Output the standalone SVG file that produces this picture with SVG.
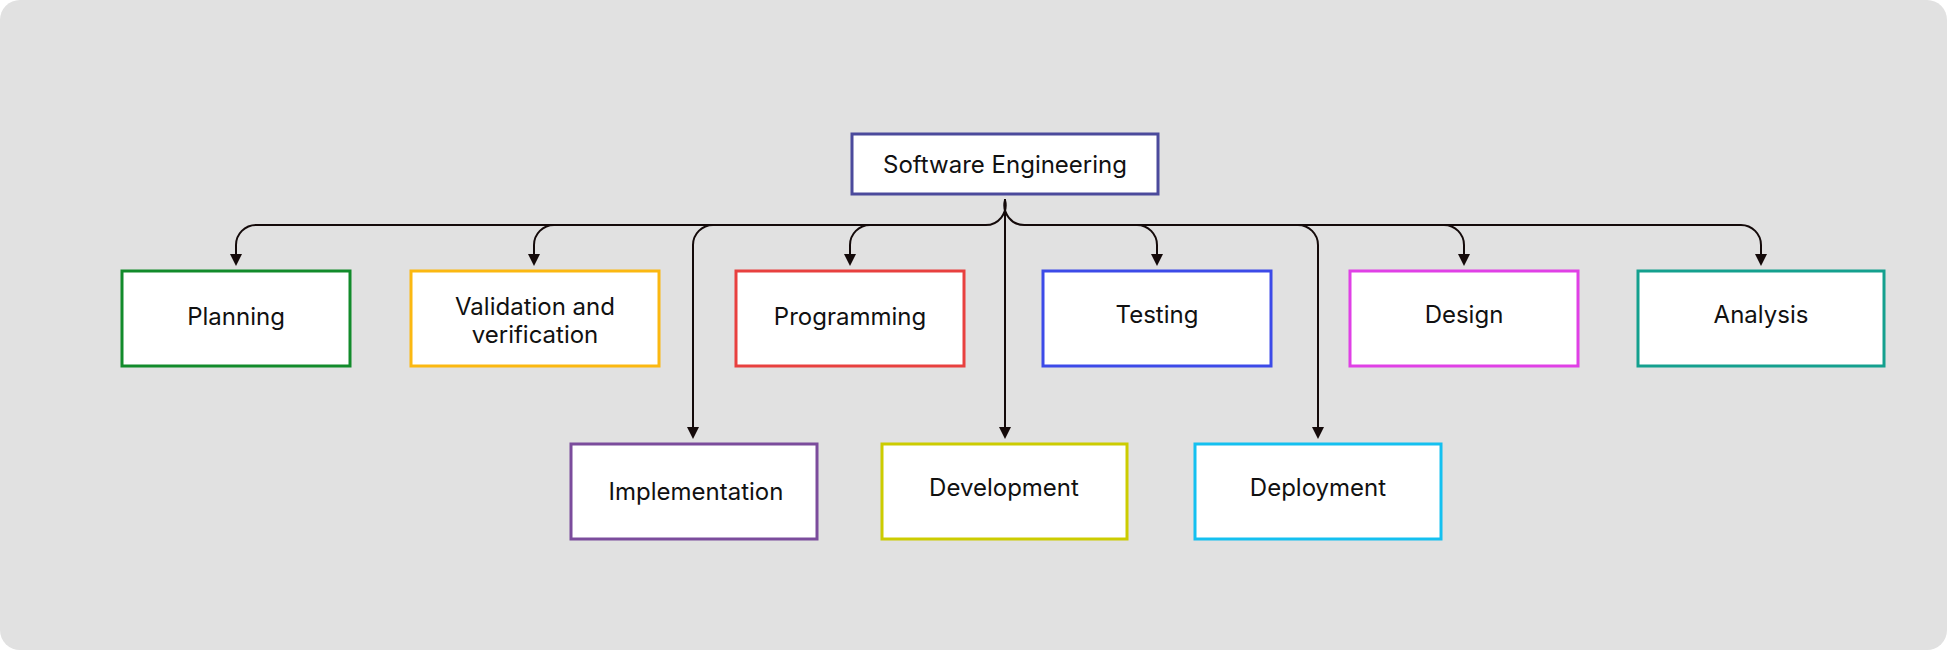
<svg xmlns="http://www.w3.org/2000/svg" width="1947" height="650" viewBox="0 0 1947 650">
<style>
.box{fill:#ffffff;stroke-width:3}
.lbl{font-family:Inter,"Noto Sans","Liberation Sans",sans-serif;font-size:24px;fill:#111111;text-anchor:middle}
.con{fill:none;stroke:#140a0a;stroke-width:2}
</style>
<defs>
<marker id="arr" markerUnits="userSpaceOnUse" markerWidth="12" markerHeight="12" refX="0" refY="5" orient="auto" viewBox="0 0 10 10">
<path d="M0,0 L10,5 L0,10 z" fill="#140a0a"/>
</marker>
</defs>
<rect x="0" y="0" width="1947" height="650" fill="#ffffff"/>
<rect x="0" y="0" width="1947" height="650" rx="20" ry="20" fill="#e1e1e1"/>

<g id="connectors">
<path class="con" d="M1005,199 L1005,427" marker-end="url(#arr)"/>
<path class="con" d="M1005,200 A20 20 0 0 1 985,225 L256,225"/>
<path class="con" d="M1005,200 A20 20 0 0 0 1025,225 L1741,225"/>
<path class="con" d="M256,225 A20 20 0 0 0 236,245 L236,254" marker-end="url(#arr)"/>
<path class="con" d="M554,225 A20 20 0 0 0 534,245 L534,254" marker-end="url(#arr)"/>
<path class="con" d="M713,225 A20 20 0 0 0 693,245 L693,427" marker-end="url(#arr)"/>
<path class="con" d="M870,225 A20 20 0 0 0 850,245 L850,254" marker-end="url(#arr)"/>
<path class="con" d="M1137,225 A20 20 0 0 1 1157,245 L1157,254" marker-end="url(#arr)"/>
<path class="con" d="M1298,225 A20 20 0 0 1 1318,245 L1318,427" marker-end="url(#arr)"/>
<path class="con" d="M1444,225 A20 20 0 0 1 1464,245 L1464,254" marker-end="url(#arr)"/>
<path class="con" d="M1741,225 A20 20 0 0 1 1761,245 L1761,254" marker-end="url(#arr)"/>
</g>

<g id="software-engineering">
<rect class="box" x="852" y="134" width="306" height="60" stroke="#4b4a9c"/>
<text class="lbl" x="1005" y="173">Software Engineering</text>
</g>
<g id="planning">
<rect class="box" x="122" y="271" width="228" height="95" stroke="#128b2b"/>
<text class="lbl" x="236" y="325">Planning</text>
</g>
<g id="validation">
<rect class="box" x="411" y="271" width="248" height="95" stroke="#fbb811"/>
<text class="lbl" x="535" y="315">Validation and</text>
<text class="lbl" x="535" y="343">verification</text>
</g>
<g id="programming">
<rect class="box" x="736" y="271" width="228" height="95" stroke="#e8403f"/>
<text class="lbl" x="850" y="325">Programming</text>
</g>
<g id="testing">
<rect class="box" x="1043" y="271" width="228" height="95" stroke="#3c4ae8"/>
<text class="lbl" x="1157" y="323">Testing</text>
</g>
<g id="design">
<rect class="box" x="1350" y="271" width="228" height="95" stroke="#e040e6"/>
<text class="lbl" x="1464" y="323">Design</text>
</g>
<g id="analysis">
<rect class="box" x="1638" y="271" width="246" height="95" stroke="#14a08e"/>
<text class="lbl" x="1761" y="323">Analysis</text>
</g>
<g id="implementation">
<rect class="box" x="571" y="444" width="246" height="95" stroke="#7b4c9c"/>
<text class="lbl" x="696" y="500">Implementation</text>
</g>
<g id="development">
<rect class="box" x="882" y="444" width="245" height="95" stroke="#cccc00"/>
<text class="lbl" x="1004" y="496">Development</text>
</g>
<g id="deployment">
<rect class="box" x="1195" y="444" width="246" height="95" stroke="#14c0f0"/>
<text class="lbl" x="1318" y="496">Deployment</text>
</g>
</svg>
